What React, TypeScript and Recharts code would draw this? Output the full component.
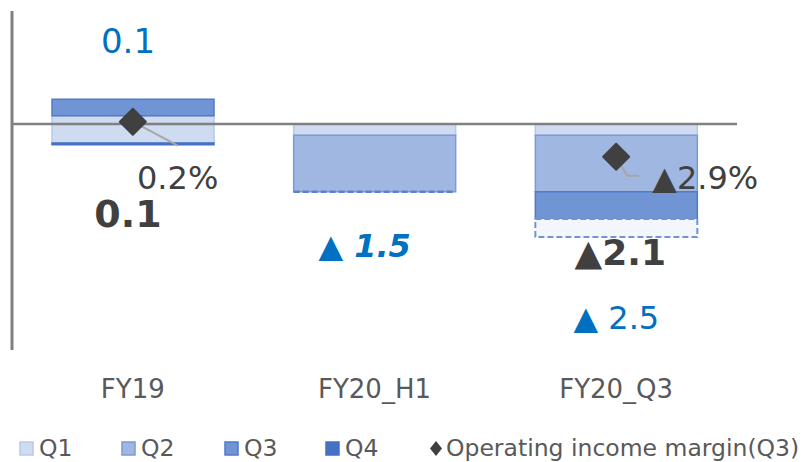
import React from 'react';
import { ComposedChart, Bar, Line, XAxis, YAxis, ReferenceLine, LabelList } from 'recharts';

// categories and quarterly segments (each segment is a [low, high] range, in 100M yen)
const categories = ['FY19', 'FY20_H1', 'FY20_Q3'];
const q1Range = [[-0.42, 0.18], [-0.25, 0], [-0.25, 0]];
const q2Range = [null, [-1.5, -0.25], [-1.5, -0.25]];
const q3Range = [[0.18, 0.55], null, [-2.1, -1.5]];
const q4Range = [[-0.46, -0.42], null, null];
const q4Forecast = [null, [-1.5, -1.5], [-2.5, -2.1]];
const marginQ3 = [0.2, null, -2.9];

const forecastLabels = ['0.1', '▲ 1.5', '▲ 2.5'];
const actualLabels = ['0.1', '', '▲2.1'];
const marginLabels = ['0.2%', '', '▲2.9%'];

const data = categories.map((name, i) => ({
  name,
  q1: q1Range[i],
  q2: q2Range[i],
  q3: q3Range[i],
  q4: q4Range[i],
  fc: q4Forecast[i],
  margin: marginQ3[i],
}));

const W = 803;
const H = 462;
const MARGIN = { top: 11, right: 66, bottom: 72, left: 9 };
const X_AXIS_H = 40;

const FONT = '"DejaVu Sans", Verdana, sans-serif';
const BLUE = '#0070c0';
const DARK = '#404040';
const AXIS = '#808080';

const COLORS = {
  q1: { fill: '#cfdbf0', stroke: '#b7c9e9' },
  q2: { fill: '#a0b8e1', stroke: '#7b9bd6' },
  q3: { fill: '#7094d4', stroke: '#4f7bc9' },
  q4: { fill: '#4472c4', stroke: '#4472c4' },
};

// text placement per category, relative to the bar centre
const layout = [
  {
    fc: { dx: -5, y: 53, size: 34, weight: 'normal', style: 'normal' },
    act: { dx: -5, y: 227, size: 38 },
    mg: { dx: 4, y: 189, size: 32 },
  },
  {
    fc: { dx: -10, y: 257, size: 32, weight: 'bold', style: 'italic' },
    act: null,
    mg: null,
  },
  {
    fc: { dx: 0, y: 329, size: 32, weight: 'normal', style: 'normal' },
    act: { dx: 4, y: 265, size: 36 },
    mg: { dx: 36, y: 189, size: 32 },
  },
];

const Annotations = (props: any) => {
  const { viewBox, value } = props;
  const i = categories.indexOf(value);
  if (i < 0 || !viewBox) return null;
  const cx = viewBox.x + viewBox.width / 2;
  const l = layout[i];
  return (
    <g fontFamily={FONT}>
      <text x={cx + l.fc.dx} y={l.fc.y} textAnchor="middle" fill={BLUE} fontSize={l.fc.size}
        fontWeight={l.fc.weight} fontStyle={l.fc.style}>
        {forecastLabels[i]}
      </text>
      {l.act && actualLabels[i] && (
        <text x={cx + l.act.dx} y={l.act.y} textAnchor="middle" fill={DARK} fontSize={l.act.size} fontWeight="bold">
          {actualLabels[i]}
        </text>
      )}
      {l.mg && marginLabels[i] && (
        <text x={cx + l.mg.dx} y={l.mg.y} textAnchor="start" fill={DARK} fontSize={l.mg.size}>
          {marginLabels[i]}
        </text>
      )}
    </g>
  );
};

const ForecastShape = (props: any) => {
  const { x, y, width, height } = props;
  if (x == null || y == null) return null;
  if (!height || height < 1) {
    return <line x1={x} x2={x + width} y1={y} y2={y} stroke="#5b82cc" strokeWidth={2.5} strokeDasharray="6 3" />;
  }
  return (
    <rect x={x} y={y} width={width} height={height} fill="#f3f6fb" stroke="#7094d4" strokeWidth={2} strokeDasharray="6 3" />
  );
};

const MarginDot = (props: any) => {
  const { cx, cy, index, value } = props;
  if (value == null || cy == null || isNaN(cy)) return null;
  const s = 13;
  const leader =
    index === 0
      ? `${cx},${cy} ${cx + 45},${cy + 24}`
      : `${cx},${cy} ${cx + 11},${cy + 19} ${cx + 23},${cy + 19}`;
  return (
    <g key={`dot-${index}`}>
      <polyline points={leader} fill="none" stroke="#a6a6a6" strokeWidth={2} />
      <polygon
        points={`${cx},${cy - s} ${cx + s},${cy} ${cx},${cy + s} ${cx - s},${cy}`}
        fill={DARK}
        stroke={DARK}
        strokeWidth={2}
        strokeLinejoin="round"
      />
    </g>
  );
};

const CategoryTick = (props: any) => {
  const { x, payload } = props;
  return (
    <text x={x} y={398} textAnchor="middle" fill="#595959" fontSize={26} fontFamily={FONT}>
      {payload.value}
    </text>
  );
};

const legendItems = [
  { label: 'Q1', x: 20, ...COLORS.q1 },
  { label: 'Q2', x: 122, ...COLORS.q2 },
  { label: 'Q3', x: 225, ...COLORS.q3 },
  { label: 'Q4', x: 326, ...COLORS.q4 },
];

const ChartLegend = () => (
  <svg width={W} height={40} style={{ position: 'absolute', left: 0, top: 422 }}>
    <g fontFamily={FONT} fontSize={23.5} fill="#595959">
      {legendItems.map((it) => (
        <g key={it.label}>
          <rect x={it.x} y={20} width={13} height={13} fill={it.fill} stroke={it.stroke} strokeWidth={1.5} />
          <text x={it.x + 19} y={34}>{it.label}</text>
        </g>
      ))}
      <polygon points="436,19 442,26.5 436,34 430,26.5" fill={DARK} />
      <text x={446} y={34}>Operating income margin(Q3)</text>
    </g>
  </svg>
);

const App: React.FC = () => {
  return (
    <div style={{ position: 'absolute', left: 0, top: 0, width: W, height: H, background: '#fff', overflow: 'hidden' }}>
      <ComposedChart width={W} height={H} data={data} margin={MARGIN} barSize={162} barGap={-162}>
        <XAxis dataKey="name" height={X_AXIS_H} axisLine={false} tickLine={false} tick={<CategoryTick />} interval={0} />
        <YAxis yAxisId="left" width={3} domain={[-5, 2.5]} tick={false} tickLine={false}
          axisLine={{ stroke: AXIS, strokeWidth: 3 }} />
        <YAxis yAxisId="right" orientation="right" hide domain={[-20, 10]} />
        <Bar yAxisId="left" dataKey="q1" fill={COLORS.q1.fill} stroke={COLORS.q1.stroke} strokeWidth={1.5} isAnimationActive={false}>
          <LabelList dataKey="name" content={<Annotations />} />
        </Bar>
        <Bar yAxisId="left" dataKey="q2" fill={COLORS.q2.fill} stroke={COLORS.q2.stroke} strokeWidth={1.5} isAnimationActive={false} />
        <Bar yAxisId="left" dataKey="q3" fill={COLORS.q3.fill} stroke={COLORS.q3.stroke} strokeWidth={1.5} isAnimationActive={false} />
        <Bar yAxisId="left" dataKey="q4" fill={COLORS.q4.fill} stroke={COLORS.q4.stroke} strokeWidth={1.5} isAnimationActive={false} />
        <Bar yAxisId="left" dataKey="fc" shape={<ForecastShape />} isAnimationActive={false} />
        <ReferenceLine yAxisId="left" y={0} stroke={AXIS} strokeWidth={2.5} />
        <Line yAxisId="right" dataKey="margin" stroke="none" dot={<MarginDot />} activeDot={false}
          isAnimationActive={false} />
      </ComposedChart>
      <ChartLegend />
    </div>
  );
};

export default App;
